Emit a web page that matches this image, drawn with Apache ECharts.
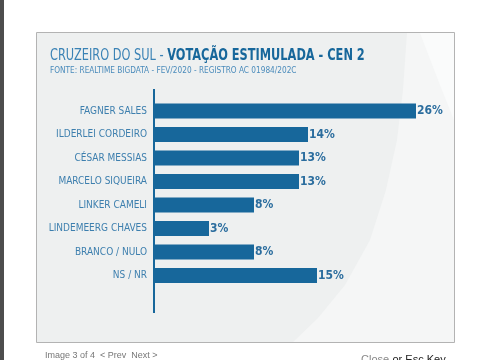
<!DOCTYPE html>
<html><head><meta charset="utf-8">
<script src="https://cdn.jsdelivr.net/npm/echarts@6/dist/echarts.min.js"></script>
<style>html,body{margin:0;padding:0;background:#fff;}#c{width:485px;height:360px;}</style>
</head><body><div id="c"></div>
<script>
var categories = ['FAGNER SALES','ILDERLEI CORDEIRO','CÉSAR MESSIAS','MARCELO SIQUEIRA','LINKER CAMELI','LINDEMEERG CHAVES','BRANCO / NULO','NS / NR'];
var values = [26, 14, 13, 13, 8, 3, 8, 15];
var titleMain = 'CRUZEIRO DO SUL - ';
var titleBold = 'VOTAÇÃO ESTIMULADA - CEN 2';
var subtitle = 'FONTE: REALTIME BIGDATA - FEV/2020 - REGISTRO AC 01984/202C';

var FONT = '"DejaVu Sans Condensed","Liberation Sans Narrow",sans-serif';
var BAR = '#17679b';
var chart = echarts.init(document.getElementById('c'));
var base = categories.map(function(){ return 3; });
chart.setOption({
  animation: false,
  backgroundColor: '#ffffff',
  graphic: [
    {type:'rect', shape:{x:0,y:0,width:4,height:360}, style:{fill:'#4d4d4d'}, z:-10},
    {type:'rect', shape:{x:36.5,y:32.5,width:418,height:310}, style:{fill:'#eef0f0', stroke:'#b3b3b3', lineWidth:1}, z:-10},
    {type:'polygon', shape:{points:[[407,33],[403,90],[397,140],[386,190],[370,240],[345,285],[318,318],[293,342],[454,342],[454,33]]}, style:{fill:'#f5f6f6'}, z:-9},
    {type:'polygon', shape:{points:[[420,33],[454,33],[454,120],[440,85]]}, style:{fill:'#fafbfb'}, z:-9},
    {type:'rect', shape:{x:153,y:89,width:2,height:224}, style:{fill:BAR}, z:5},
    {type:'text', x:50, y:48, scaleX:0.79, style:{rich:{a:{fill:'#3a82b5',fontSize:16,fontFamily:FONT},b:{fill:BAR,fontSize:16,fontWeight:'bold',fontFamily:FONT}}, text:'{a|'+titleMain+'}{b|'+titleBold+'}'}},
    {type:'text', left:50, top:66.5, style:{text:subtitle, fill:'#4a8bbb', fontSize:8.2, fontFamily:FONT}},
    {type:'text', left:45, top:351, style:{text:'Image 3 of 4  < Prev  Next >', fill:'#777', fontSize:9, fontFamily:'"Liberation Sans",Arial,sans-serif'}},
    {type:'text', left:361, top:354, style:{rich:{g:{fill:'#888',fontSize:11,fontFamily:'"Liberation Sans",Arial,sans-serif'},k:{fill:'#222',fontSize:11,fontFamily:'"Liberation Sans",Arial,sans-serif'}}, text:'{g|Close} {k|or Esc Key}'}}
  ],
  grid: {left:155, top:99.25, width:270, height:188, containLabel:false},
  xAxis: {type:'value', min:0, max:30, show:false},
  yAxis: {type:'category', data:categories, inverse:true,
    axisLine:{show:false}, axisTick:{show:false},
    axisLabel:{margin:8, color:'#3d7fae', fontSize:10, fontFamily:FONT}},
  series: [
    {type:'bar', stack:'s', data:base, barWidth:15, itemStyle:{color:BAR}, silent:true},
    {type:'bar', stack:'s', data:values, barWidth:15, itemStyle:{color:BAR},
      label:{show:true, position:'right', distance:1, formatter:'{c}%', color:'#2b6d9e', fontWeight:'bold', fontSize:12, fontFamily:FONT}}
  ]
});
</script></body></html>
